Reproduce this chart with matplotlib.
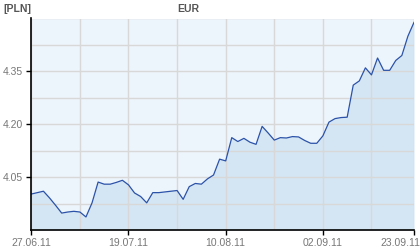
import matplotlib
matplotlib.use('Agg')
import matplotlib.pyplot as plt
import matplotlib.transforms as mtransforms
from matplotlib.ticker import FixedLocator, MultipleLocator

# EUR/PLN daily fixing, one value per trading day (27.06.11 - 23.09.11)
rates = [4.002, 4.006, 4.010, 3.991, 3.970, 3.948, 3.951, 3.953, 3.951, 3.937,
         3.977, 4.036, 4.030, 4.030, 4.035, 4.041, 4.028, 4.005, 3.995, 3.977,
         4.006, 4.006, 4.008, 4.010, 4.012, 3.987, 4.023, 4.032, 4.030, 4.045,
         4.056, 4.101, 4.096, 4.162, 4.151, 4.160, 4.149, 4.143, 4.194, 4.175,
         4.155, 4.162, 4.161, 4.165, 4.164, 4.154, 4.146, 4.146, 4.167, 4.206,
         4.216, 4.219, 4.220, 4.311, 4.323, 4.360, 4.340, 4.388, 4.353, 4.353,
         4.381, 4.395, 4.450, 4.489]
tick_pos = [0, 16, 32, 48, 63]
tick_labels = ['27.06.11', '19.07.11', '10.08.11', '02.09.11', '23.09.11']
y_ticks = [4.05, 4.20, 4.35]

plt.rcParams['font.family'] = ['Liberation Sans', 'DejaVu Sans']

fig = plt.figure(figsize=(4.2, 2.5), dpi=100)
ax = fig.add_axes([31.3/420, 20/250, (414-31.3)/420, (230-18.5)/250])
ax.set_facecolor('#ecf4fc')

x = list(range(len(rates)))
ax.fill_between(x, rates, 3.9, color='#d4e6f4', lw=0, zorder=1)
ax.plot(x, rates, color='#2b52a8', lw=0.9, zorder=3)

ax.set_xlim(0, len(rates) - 1)
ax.set_ylim(3.9, 4.5)

ax.xaxis.set_major_locator(FixedLocator(tick_pos))
ax.set_xticklabels(tick_labels)
ax.xaxis.set_minor_locator(MultipleLocator(8))
ax.yaxis.set_major_locator(FixedLocator(y_ticks))
ax.yaxis.set_minor_locator(MultipleLocator(0.075))

ax.grid(which='both', color='#d8d8d8', lw=1, zorder=2)
ax.set_axisbelow(False)

for s in ['top', 'right']:
    ax.spines[s].set_visible(False)
for s in ['left', 'bottom']:
    ax.spines[s].set_color('black')
    ax.spines[s].set_linewidth(1.2)
    ax.spines[s].set_zorder(4)

ax.tick_params(which='major', direction='out', length=3.5, width=1, color='black',
               labelsize=7.5, labelcolor='#777777', pad=2.5)
ax.tick_params(which='minor', length=0)

# last date label is pulled in so it stays inside the picture
last = ax.get_xticklabels()[-1]
last.set_transform(last.get_transform() + mtransforms.ScaledTranslation(-14/100, 0, fig.dpi_scale_trans))

fig.text(3/420, 1 - 9/250, '[PLN]', fontsize=7.5, fontweight='bold', color='#555555', va='center')
fig.text(188/420, 1 - 9/250, 'EUR', fontsize=7.5, fontweight='bold', color='#555555', va='center', ha='center')

fig.savefig('out.png', dpi=100)
